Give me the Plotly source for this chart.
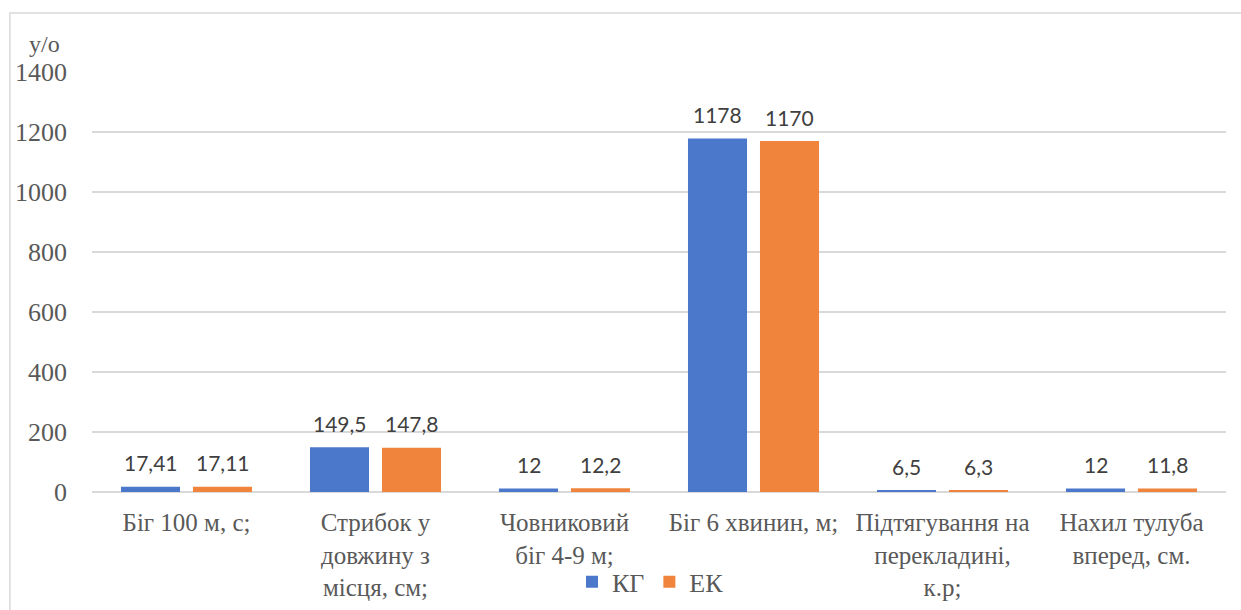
import plotly.graph_objects as go

categories = ["Біг 100 м, с;", "Стрибок у<br>довжину з<br>місця, см;", "Човниковий<br>біг 4-9 м;",
              "Біг 6 хвинин, м;", "Підтягування на<br>перекладині,<br>к.р;", "Нахил тулуба<br>вперед, см."]
kg_values = [17.41, 149.5, 12, 1178, 6.5, 12]
ek_values = [17.11, 147.8, 12.2, 1170, 6.3, 11.8]
kg_labels = ["17,41", "149,5", "12", "1178", "6,5", "12"]
ek_labels = ["17,11", "147,8", "12,2", "1170", "6,3", "11,8"]
y_ticks = [0, 200, 400, 600, 800, 1000, 1200, 1400]

BLUE = "#4B78CB"
ORANGE = "#F1843C"
serif = "Times New Roman, Liberation Serif, DejaVu Serif, serif"
sans = "Lato"

fig = go.Figure()
fig.add_trace(go.Bar(x=categories, y=kg_values, name="КГ", marker=dict(color=BLUE, line=dict(width=0))))
fig.add_trace(go.Bar(x=categories, y=ek_values, name="ЕК", marker=dict(color=ORANGE, line=dict(width=0))))

annotations = []
for cat, v, lab in zip(categories, kg_values, kg_labels):
    annotations.append(dict(x=cat, y=v, text=lab, showarrow=False, xshift=-36, yshift=24,
                            yanchor="middle", font=dict(family=sans, size=21, color="#404040")))
for cat, v, lab in zip(categories, ek_values, ek_labels):
    annotations.append(dict(x=cat, y=v, text=lab, showarrow=False, xshift=36, yshift=24,
                            yanchor="middle", font=dict(family=sans, size=21, color="#404040")))
annotations.append(dict(xref="paper", yref="paper", x=-0.0415, y=1.066, text="у/о", showarrow=False,
                        xanchor="center", yanchor="middle", font=dict(family=serif, size=24, color="#595959")))

fig.update_layout(
    width=1241, height=610,
    margin=dict(l=92, r=15, t=72, b=118, autoexpand=False),
    paper_bgcolor="white", plot_bgcolor="white",
    barmode="group", bargap=0.238, bargroupgap=0.18,
    showlegend=True,
    legend=dict(orientation="h", x=0.4925, xanchor="center", y=-0.214, yanchor="middle",
                font=dict(family=serif, size=26, color="#595959"), itemwidth=30,
                bgcolor="rgba(0,0,0,0)"),
    annotations=annotations,
    shapes=[dict(type="rect", xref="paper", yref="paper", x0=-0.0724, x1=1.02, y0=-0.3, y1=1.1405,
                 line=dict(color="#D9D9D9", width=1.5), fillcolor="rgba(0,0,0,0)", layer="below")],
)
fig.update_xaxes(showgrid=False, showline=False, ticks="", automargin=False,
                 tickfont=dict(family=serif, size=25, color="#595959"), ticklabelstandoff=13,
                 tickangle=0)
fig.update_yaxes(range=[0, 1400], tickvals=y_ticks, showgrid=True, gridcolor="#D9D9D9", gridwidth=1.5,
                 zeroline=True, zerolinecolor="#D9D9D9", zerolinewidth=2, automargin=False,
                 showline=False, ticks="", ticklabelstandoff=24,
                 tickfont=dict(family=serif, size=26, color="#595959"))

fig.write_html("out.html")
